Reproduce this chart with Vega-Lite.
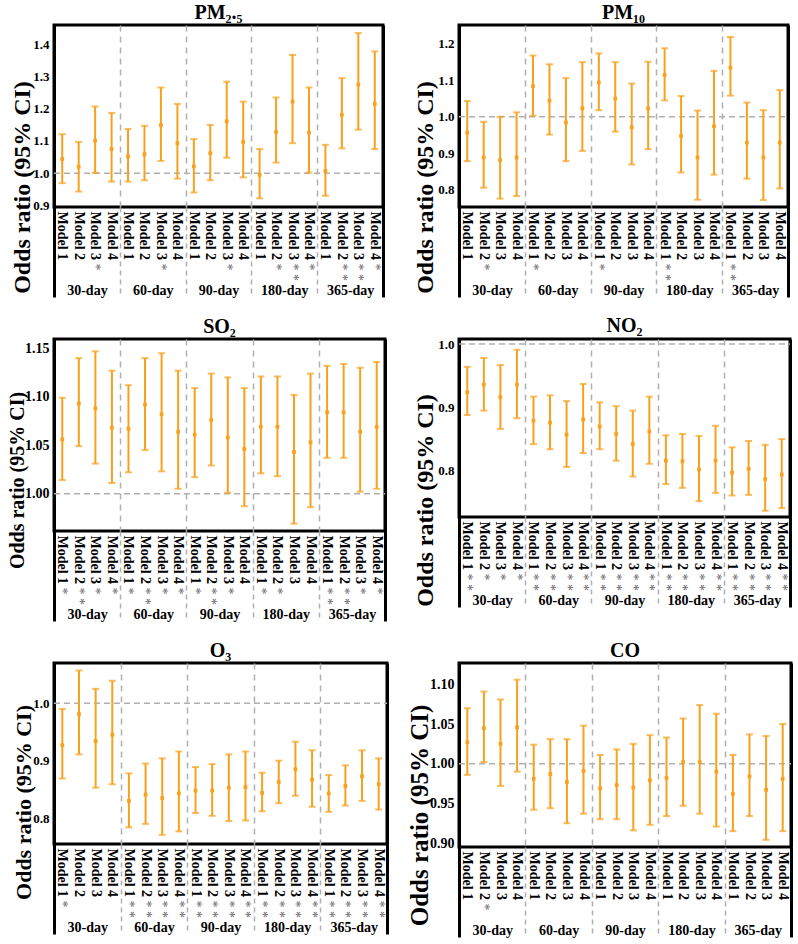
{
"$schema": "https://vega.github.io/schema/vega-lite/v6.json",
"background": "white",
"padding": {"left": 5, "top": 1, "right": 0, "bottom": 0},
"config": {
  "view": {"stroke": "black", "strokeWidth": 3},
  "font": "Liberation Serif",
  "title": {"font": "Liberation Serif", "fontSize": 20, "fontWeight": "bold", "color": "black", "offset": 2, "anchor": "middle"},
  "axis": {"labelFont": "Liberation Serif", "titleFont": "Liberation Serif", "labelColor": "black", "titleColor": "black"},
  "axisY": {"ticks": false, "domain": false, "grid": false, "labelFontWeight": "bold", "labelPadding": 5, "labelOverlap": false, "titleFontWeight": "bold", "titleAngle": -90, "titleAlign": "center", "titleBaseline": "alphabetic"},
  "axisX": {"domain": false, "grid": false, "labelOverlap": false}
},
"datasets": {
  "pm25": [
    {"window": "30-day", "model": "Model 1", "sig": "", "or": 1.044, "lo": 0.969, "hi": 1.121},
    {"window": "30-day", "model": "Model 2", "sig": "", "or": 1.020, "lo": 0.943, "hi": 1.097},
    {"window": "30-day", "model": "Model 3", "sig": "*", "or": 1.101, "lo": 1.001, "hi": 1.207},
    {"window": "30-day", "model": "Model 4", "sig": "", "or": 1.075, "lo": 0.974, "hi": 1.187},
    {"window": "60-day", "model": "Model 1", "sig": "", "or": 1.052, "lo": 0.974, "hi": 1.137},
    {"window": "60-day", "model": "Model 2", "sig": "", "or": 1.059, "lo": 0.978, "hi": 1.147},
    {"window": "60-day", "model": "Model 3", "sig": "*", "or": 1.149, "lo": 1.038, "hi": 1.266},
    {"window": "60-day", "model": "Model 4", "sig": "", "or": 1.093, "lo": 0.983, "hi": 1.215},
    {"window": "90-day", "model": "Model 1", "sig": "", "or": 1.021, "lo": 0.940, "hi": 1.106},
    {"window": "90-day", "model": "Model 2", "sig": "", "or": 1.062, "lo": 0.978, "hi": 1.150},
    {"window": "90-day", "model": "Model 3", "sig": "*", "or": 1.161, "lo": 1.048, "hi": 1.284},
    {"window": "90-day", "model": "Model 4", "sig": "", "or": 1.097, "lo": 0.987, "hi": 1.222},
    {"window": "180-day", "model": "Model 1", "sig": "", "or": 0.995, "lo": 0.922, "hi": 1.075},
    {"window": "180-day", "model": "Model 2", "sig": "*", "or": 1.128, "lo": 1.033, "hi": 1.235},
    {"window": "180-day", "model": "Model 3", "sig": "**", "or": 1.222, "lo": 1.093, "hi": 1.367},
    {"window": "180-day", "model": "Model 4", "sig": "*", "or": 1.126, "lo": 1.002, "hi": 1.266},
    {"window": "365-day", "model": "Model 1", "sig": "", "or": 1.007, "lo": 0.930, "hi": 1.088},
    {"window": "365-day", "model": "Model 2", "sig": "**", "or": 1.181, "lo": 1.077, "hi": 1.295},
    {"window": "365-day", "model": "Model 3", "sig": "**", "or": 1.275, "lo": 1.135, "hi": 1.435},
    {"window": "365-day", "model": "Model 4", "sig": "*", "or": 1.215, "lo": 1.075, "hi": 1.378}
  ],
  "pm10": [
    {"window": "30-day", "model": "Model 1", "sig": "", "or": 0.956, "lo": 0.878, "hi": 1.043},
    {"window": "30-day", "model": "Model 2", "sig": "*", "or": 0.888, "lo": 0.805, "hi": 0.986},
    {"window": "30-day", "model": "Model 3", "sig": "", "or": 0.881, "lo": 0.775, "hi": 1.000},
    {"window": "30-day", "model": "Model 4", "sig": "", "or": 0.888, "lo": 0.782, "hi": 1.012},
    {"window": "60-day", "model": "Model 1", "sig": "*", "or": 1.084, "lo": 1.003, "hi": 1.168},
    {"window": "60-day", "model": "Model 2", "sig": "", "or": 1.044, "lo": 0.951, "hi": 1.144},
    {"window": "60-day", "model": "Model 3", "sig": "", "or": 0.984, "lo": 0.878, "hi": 1.106},
    {"window": "60-day", "model": "Model 4", "sig": "", "or": 1.023, "lo": 0.906, "hi": 1.150},
    {"window": "90-day", "model": "Model 1", "sig": "*", "or": 1.094, "lo": 1.018, "hi": 1.174},
    {"window": "90-day", "model": "Model 2", "sig": "", "or": 1.050, "lo": 0.959, "hi": 1.150},
    {"window": "90-day", "model": "Model 3", "sig": "", "or": 0.971, "lo": 0.869, "hi": 1.091},
    {"window": "90-day", "model": "Model 4", "sig": "", "or": 1.023, "lo": 0.911, "hi": 1.151},
    {"window": "180-day", "model": "Model 1", "sig": "**", "or": 1.115, "lo": 1.045, "hi": 1.188},
    {"window": "180-day", "model": "Model 2", "sig": "", "or": 0.947, "lo": 0.847, "hi": 1.057},
    {"window": "180-day", "model": "Model 3", "sig": "", "or": 0.888, "lo": 0.772, "hi": 1.017},
    {"window": "180-day", "model": "Model 4", "sig": "", "or": 0.974, "lo": 0.841, "hi": 1.126},
    {"window": "365-day", "model": "Model 1", "sig": "**", "or": 1.135, "lo": 1.058, "hi": 1.219},
    {"window": "365-day", "model": "Model 2", "sig": "", "or": 0.929, "lo": 0.830, "hi": 1.039},
    {"window": "365-day", "model": "Model 3", "sig": "", "or": 0.888, "lo": 0.771, "hi": 1.018},
    {"window": "365-day", "model": "Model 4", "sig": "", "or": 0.929, "lo": 0.803, "hi": 1.073}
  ],
  "so2": [
    {"window": "30-day", "model": "Model 1", "sig": "*", "or": 1.056, "lo": 1.014, "hi": 1.099},
    {"window": "30-day", "model": "Model 2", "sig": "**", "or": 1.093, "lo": 1.049, "hi": 1.140},
    {"window": "30-day", "model": "Model 3", "sig": "*", "or": 1.088, "lo": 1.031, "hi": 1.147},
    {"window": "30-day", "model": "Model 4", "sig": "*", "or": 1.068, "lo": 1.011, "hi": 1.127},
    {"window": "60-day", "model": "Model 1", "sig": "*", "or": 1.067, "lo": 1.022, "hi": 1.112},
    {"window": "60-day", "model": "Model 2", "sig": "**", "or": 1.092, "lo": 1.045, "hi": 1.140},
    {"window": "60-day", "model": "Model 3", "sig": "*", "or": 1.082, "lo": 1.023, "hi": 1.145},
    {"window": "60-day", "model": "Model 4", "sig": "*", "or": 1.064, "lo": 1.005, "hi": 1.127},
    {"window": "90-day", "model": "Model 1", "sig": "*", "or": 1.061, "lo": 1.017, "hi": 1.109},
    {"window": "90-day", "model": "Model 2", "sig": "**", "or": 1.076, "lo": 1.029, "hi": 1.124},
    {"window": "90-day", "model": "Model 3", "sig": "*", "or": 1.058, "lo": 1.001, "hi": 1.120},
    {"window": "90-day", "model": "Model 4", "sig": "", "or": 1.046, "lo": 0.987, "hi": 1.109},
    {"window": "180-day", "model": "Model 1", "sig": "*", "or": 1.069, "lo": 1.021, "hi": 1.121},
    {"window": "180-day", "model": "Model 2", "sig": "*", "or": 1.069, "lo": 1.018, "hi": 1.121},
    {"window": "180-day", "model": "Model 3", "sig": "", "or": 1.043, "lo": 0.969, "hi": 1.102},
    {"window": "180-day", "model": "Model 4", "sig": "", "or": 1.053, "lo": 0.986, "hi": 1.124},
    {"window": "365-day", "model": "Model 1", "sig": "**", "or": 1.084, "lo": 1.037, "hi": 1.132},
    {"window": "365-day", "model": "Model 2", "sig": "**", "or": 1.084, "lo": 1.037, "hi": 1.134},
    {"window": "365-day", "model": "Model 3", "sig": "*", "or": 1.064, "lo": 1.002, "hi": 1.130},
    {"window": "365-day", "model": "Model 4", "sig": "*", "or": 1.069, "lo": 1.005, "hi": 1.136}
  ],
  "no2": [
    {"window": "30-day", "model": "Model 1", "sig": "**", "or": 0.924, "lo": 0.888, "hi": 0.964},
    {"window": "30-day", "model": "Model 2", "sig": "*", "or": 0.936, "lo": 0.895, "hi": 0.978},
    {"window": "30-day", "model": "Model 3", "sig": "*", "or": 0.916, "lo": 0.866, "hi": 0.967},
    {"window": "30-day", "model": "Model 4", "sig": "*", "or": 0.936, "lo": 0.883, "hi": 0.991},
    {"window": "60-day", "model": "Model 1", "sig": "**", "or": 0.879, "lo": 0.842, "hi": 0.917},
    {"window": "60-day", "model": "Model 2", "sig": "**", "or": 0.876, "lo": 0.834, "hi": 0.919},
    {"window": "60-day", "model": "Model 3", "sig": "**", "or": 0.857, "lo": 0.806, "hi": 0.910},
    {"window": "60-day", "model": "Model 4", "sig": "**", "or": 0.881, "lo": 0.828, "hi": 0.937},
    {"window": "90-day", "model": "Model 1", "sig": "**", "or": 0.870, "lo": 0.834, "hi": 0.908},
    {"window": "90-day", "model": "Model 2", "sig": "**", "or": 0.858, "lo": 0.816, "hi": 0.902},
    {"window": "90-day", "model": "Model 3", "sig": "**", "or": 0.842, "lo": 0.791, "hi": 0.895},
    {"window": "90-day", "model": "Model 4", "sig": "**", "or": 0.862, "lo": 0.811, "hi": 0.917},
    {"window": "180-day", "model": "Model 1", "sig": "**", "or": 0.816, "lo": 0.779, "hi": 0.856},
    {"window": "180-day", "model": "Model 2", "sig": "**", "or": 0.815, "lo": 0.773, "hi": 0.858},
    {"window": "180-day", "model": "Model 3", "sig": "**", "or": 0.802, "lo": 0.752, "hi": 0.855},
    {"window": "180-day", "model": "Model 4", "sig": "**", "or": 0.816, "lo": 0.765, "hi": 0.871},
    {"window": "365-day", "model": "Model 1", "sig": "**", "or": 0.797, "lo": 0.761, "hi": 0.837},
    {"window": "365-day", "model": "Model 2", "sig": "**", "or": 0.803, "lo": 0.762, "hi": 0.847},
    {"window": "365-day", "model": "Model 3", "sig": "**", "or": 0.787, "lo": 0.737, "hi": 0.841},
    {"window": "365-day", "model": "Model 4", "sig": "**", "or": 0.794, "lo": 0.741, "hi": 0.850}
  ],
  "o3": [
    {"window": "30-day", "model": "Model 1", "sig": "*", "or": 0.927, "lo": 0.869, "hi": 0.990},
    {"window": "30-day", "model": "Model 2", "sig": "", "or": 0.981, "lo": 0.911, "hi": 1.057},
    {"window": "30-day", "model": "Model 3", "sig": "", "or": 0.934, "lo": 0.853, "hi": 1.025},
    {"window": "30-day", "model": "Model 4", "sig": "", "or": 0.945, "lo": 0.859, "hi": 1.039},
    {"window": "60-day", "model": "Model 1", "sig": "**", "or": 0.830, "lo": 0.784, "hi": 0.878},
    {"window": "60-day", "model": "Model 2", "sig": "**", "or": 0.841, "lo": 0.790, "hi": 0.895},
    {"window": "60-day", "model": "Model 3", "sig": "**", "or": 0.835, "lo": 0.771, "hi": 0.904},
    {"window": "60-day", "model": "Model 4", "sig": "**", "or": 0.843, "lo": 0.777, "hi": 0.916},
    {"window": "90-day", "model": "Model 1", "sig": "**", "or": 0.848, "lo": 0.809, "hi": 0.889},
    {"window": "90-day", "model": "Model 2", "sig": "**", "or": 0.848, "lo": 0.804, "hi": 0.894},
    {"window": "90-day", "model": "Model 3", "sig": "**", "or": 0.853, "lo": 0.795, "hi": 0.911},
    {"window": "90-day", "model": "Model 4", "sig": "**", "or": 0.854, "lo": 0.796, "hi": 0.916},
    {"window": "180-day", "model": "Model 1", "sig": "**", "or": 0.844, "lo": 0.812, "hi": 0.879},
    {"window": "180-day", "model": "Model 2", "sig": "**", "or": 0.863, "lo": 0.826, "hi": 0.900},
    {"window": "180-day", "model": "Model 3", "sig": "**", "or": 0.885, "lo": 0.839, "hi": 0.933},
    {"window": "180-day", "model": "Model 4", "sig": "**", "or": 0.867, "lo": 0.820, "hi": 0.918},
    {"window": "365-day", "model": "Model 1", "sig": "**", "or": 0.843, "lo": 0.811, "hi": 0.875},
    {"window": "365-day", "model": "Model 2", "sig": "**", "or": 0.856, "lo": 0.822, "hi": 0.892},
    {"window": "365-day", "model": "Model 3", "sig": "**", "or": 0.873, "lo": 0.830, "hi": 0.918},
    {"window": "365-day", "model": "Model 4", "sig": "**", "or": 0.859, "lo": 0.815, "hi": 0.904}
  ],
  "co": [
    {"window": "30-day", "model": "Model 1", "sig": "", "or": 1.027, "lo": 0.986, "hi": 1.070},
    {"window": "30-day", "model": "Model 2", "sig": "*", "or": 1.045, "lo": 1.002, "hi": 1.091},
    {"window": "30-day", "model": "Model 3", "sig": "", "or": 1.025, "lo": 0.972, "hi": 1.081},
    {"window": "30-day", "model": "Model 4", "sig": "", "or": 1.046, "lo": 0.990, "hi": 1.106},
    {"window": "60-day", "model": "Model 1", "sig": "", "or": 0.981, "lo": 0.942, "hi": 1.024},
    {"window": "60-day", "model": "Model 2", "sig": "", "or": 0.987, "lo": 0.944, "hi": 1.031},
    {"window": "60-day", "model": "Model 3", "sig": "", "or": 0.977, "lo": 0.925, "hi": 1.031},
    {"window": "60-day", "model": "Model 4", "sig": "", "or": 0.991, "lo": 0.937, "hi": 1.048},
    {"window": "90-day", "model": "Model 1", "sig": "", "or": 0.969, "lo": 0.930, "hi": 1.011},
    {"window": "90-day", "model": "Model 2", "sig": "", "or": 0.973, "lo": 0.930, "hi": 1.018},
    {"window": "90-day", "model": "Model 3", "sig": "", "or": 0.970, "lo": 0.916, "hi": 1.025},
    {"window": "90-day", "model": "Model 4", "sig": "", "or": 0.979, "lo": 0.923, "hi": 1.036},
    {"window": "180-day", "model": "Model 1", "sig": "", "or": 0.982, "lo": 0.934, "hi": 1.033},
    {"window": "180-day", "model": "Model 2", "sig": "", "or": 1.002, "lo": 0.947, "hi": 1.057},
    {"window": "180-day", "model": "Model 3", "sig": "", "or": 1.002, "lo": 0.937, "hi": 1.074},
    {"window": "180-day", "model": "Model 4", "sig": "", "or": 0.990, "lo": 0.921, "hi": 1.063},
    {"window": "365-day", "model": "Model 1", "sig": "", "or": 0.962, "lo": 0.915, "hi": 1.011},
    {"window": "365-day", "model": "Model 2", "sig": "", "or": 0.984, "lo": 0.934, "hi": 1.037},
    {"window": "365-day", "model": "Model 3", "sig": "", "or": 0.967, "lo": 0.904, "hi": 1.035},
    {"window": "365-day", "model": "Model 4", "sig": "", "or": 0.981, "lo": 0.915, "hi": 1.050}
  ]
},
"columns": 2,
"spacing": {"row": 132, "column": 72},
"bounds": "flush",
"center": {"row": true, "column": false},
"concat": [
{
 "title": {"text": "PM₂.₅"},
 "width": 329, "height": 182,
 "data": {"name": "pm25"},
 "transform": [{"calculate": "datum.window + '|' + datum.model + '|' + datum.sig", "as": "key"}],
 "resolve": {"scale": {"x": "independent"}, "axis": {"x": "independent"}},
 "layer": [
  {"data": {"values": [{}]},
   "mark": {"type": "rule", "color": "#b0b0b0", "strokeDash": [6, 4], "strokeWidth": 1.5},
   "encoding": {
    "x": {"datum": 0, "type": "quantitative", "scale": {"domain": [0, 1], "nice": false, "zero": false}, "axis": null},
    "x2": {"datum": 1},
    "y": {"datum": 1, "type": "quantitative", "scale": {"domain": [0.895, 1.46], "nice": false, "zero": false}, "axis": {"title": "Odds ratio (95% CI)", "values": [0.9, 1.0, 1.1, 1.2, 1.3, 1.4], "format": ".1f", "labelFontSize": 13, "titleFontSize": 24, "titleX": -25, "titleY": 162}}}},
  {"encoding": {"x": {"field": "key", "type": "nominal", "sort": null, "scale": {"type": "band", "paddingInner": 0, "paddingOuter": 0},
     "axis": {"orient": "bottom", "title": null, "labelExpr": "split(datum.value, '|')[1]", "labelAngle": 90, "labelAlign": "left", "labelBaseline": "middle", "labelFontSize": 14, "labelFontWeight": "bold", "labelPadding": 4, "ticks": false}}},
   "layer": [
    {"mark": {"type": "rule", "color": "#F7A11C", "strokeWidth": 2},
     "encoding": {"y": {"field": "lo", "type": "quantitative", "scale": {"domain": [0.895, 1.46], "nice": false, "zero": false}, "axis": {"title": "Odds ratio (95% CI)", "values": [0.9, 1.0, 1.1, 1.2, 1.3, 1.4], "format": ".1f", "labelFontSize": 13, "titleFontSize": 24, "titleX": -25, "titleY": 162}}, "y2": {"field": "hi"}}},
    {"mark": {"type": "tick", "color": "#F7A11C", "thickness": 2, "size": 7, "orient": "horizontal"},
     "encoding": {"y": {"field": "lo", "type": "quantitative", "scale": {"domain": [0.895, 1.46], "nice": false, "zero": false}, "axis": {"title": "Odds ratio (95% CI)", "values": [0.9, 1.0, 1.1, 1.2, 1.3, 1.4], "format": ".1f", "labelFontSize": 13, "titleFontSize": 24, "titleX": -25, "titleY": 162}}}},
    {"mark": {"type": "tick", "color": "#F7A11C", "thickness": 2, "size": 7, "orient": "horizontal"},
     "encoding": {"y": {"field": "hi", "type": "quantitative", "scale": {"domain": [0.895, 1.46], "nice": false, "zero": false}, "axis": {"title": "Odds ratio (95% CI)", "values": [0.9, 1.0, 1.1, 1.2, 1.3, 1.4], "format": ".1f", "labelFontSize": 13, "titleFontSize": 24, "titleX": -25, "titleY": 162}}}}
   ]},
  {"mark": {"type": "square", "color": "#F7A11C", "size": 14, "opacity": 1},
   "encoding": {
    "x": {"field": "key", "type": "nominal", "sort": null, "scale": {"type": "band", "paddingInner": 0, "paddingOuter": 0},
     "axis": {"orient": "bottom", "title": null, "labelExpr": "replace(split(datum.value, '|')[2], '**', '* *')", "labelAngle": 90, "labelAlign": "left", "labelBaseline": "middle", "labelFontSize": 14, "labelColor": "#666666", "labelPadding": 56, "ticks": false}},
    "y": {"field": "or", "type": "quantitative", "scale": {"domain": [0.895, 1.46], "nice": false, "zero": false}, "axis": {"title": "Odds ratio (95% CI)", "values": [0.9, 1.0, 1.1, 1.2, 1.3, 1.4], "format": ".1f", "labelFontSize": 13, "titleFontSize": 24, "titleX": -25, "titleY": 162}}}},
  {"mark": {"type": "point", "opacity": 0},
   "encoding": {
    "x": {"field": "window", "type": "nominal", "sort": null, "scale": {"type": "band", "paddingInner": 0, "paddingOuter": 0},
     "axis": {"orient": "bottom", "title": null, "tickBand": "extent", "ticks": true, "tickSize": 90,
      "tickColor": {"condition": {"test": "datum.index === -1 || datum.value === '365-day'", "value": "black"}, "value": "#b0b0b0"},
      "tickDash": {"condition": {"test": "datum.index === -1 || datum.value === '365-day'", "value": []}, "value": [5, 4]},
      "tickWidth": {"condition": {"test": "datum.index === -1 || datum.value === '365-day'", "value": 3}, "value": 1.5},
      "grid": true,
      "gridColor": {"condition": {"test": "datum.index === -1 || datum.value === '365-day'", "value": "black"}, "value": "#b0b0b0"},
      "gridDash": {"condition": {"test": "datum.index === -1 || datum.value === '365-day'", "value": []}, "value": [6, 5]},
      "gridWidth": {"condition": {"test": "datum.index === -1 || datum.value === '365-day'", "value": 3}, "value": 1.5},
      "labelAngle": 0, "labelAlign": "center", "labelBaseline": "top", "labelFontSize": 14, "labelFontWeight": "bold", "labelPadding": -14}},
    "y": {"field": "or", "type": "quantitative", "scale": {"domain": [0.895, 1.46], "nice": false, "zero": false}, "axis": {"title": "Odds ratio (95% CI)", "values": [0.9, 1.0, 1.1, 1.2, 1.3, 1.4], "format": ".1f", "labelFontSize": 13, "titleFontSize": 24, "titleX": -25, "titleY": 162}}}}
 ]
},
{
 "title": {"text": "PM₁₀"},
 "width": 329, "height": 182,
 "data": {"name": "pm10"},
 "transform": [{"calculate": "datum.window + '|' + datum.model + '|' + datum.sig", "as": "key"}],
 "resolve": {"scale": {"x": "independent"}, "axis": {"x": "independent"}},
 "layer": [
  {"data": {"values": [{}]},
   "mark": {"type": "rule", "color": "#b0b0b0", "strokeDash": [6, 4], "strokeWidth": 1.5},
   "encoding": {
    "x": {"datum": 0, "type": "quantitative", "scale": {"domain": [0, 1], "nice": false, "zero": false}, "axis": null},
    "x2": {"datum": 1},
    "y": {"datum": 1, "type": "quantitative", "scale": {"domain": [0.752, 1.252], "nice": false, "zero": false}, "axis": {"title": "Odds ratio (95% CI)", "values": [0.8, 0.9, 1.0, 1.1, 1.2], "format": ".1f", "labelFontSize": 13, "titleFontSize": 24, "titleX": -27, "titleY": 162}}}},
  {"encoding": {"x": {"field": "key", "type": "nominal", "sort": null, "scale": {"type": "band", "paddingInner": 0, "paddingOuter": 0},
     "axis": {"orient": "bottom", "title": null, "labelExpr": "split(datum.value, '|')[1]", "labelAngle": 90, "labelAlign": "left", "labelBaseline": "middle", "labelFontSize": 14, "labelFontWeight": "bold", "labelPadding": 4, "ticks": false}}},
   "layer": [
    {"mark": {"type": "rule", "color": "#F7A11C", "strokeWidth": 2},
     "encoding": {"y": {"field": "lo", "type": "quantitative", "scale": {"domain": [0.752, 1.252], "nice": false, "zero": false}, "axis": {"title": "Odds ratio (95% CI)", "values": [0.8, 0.9, 1.0, 1.1, 1.2], "format": ".1f", "labelFontSize": 13, "titleFontSize": 24, "titleX": -27, "titleY": 162}}, "y2": {"field": "hi"}}},
    {"mark": {"type": "tick", "color": "#F7A11C", "thickness": 2, "size": 7, "orient": "horizontal"},
     "encoding": {"y": {"field": "lo", "type": "quantitative", "scale": {"domain": [0.752, 1.252], "nice": false, "zero": false}, "axis": {"title": "Odds ratio (95% CI)", "values": [0.8, 0.9, 1.0, 1.1, 1.2], "format": ".1f", "labelFontSize": 13, "titleFontSize": 24, "titleX": -27, "titleY": 162}}}},
    {"mark": {"type": "tick", "color": "#F7A11C", "thickness": 2, "size": 7, "orient": "horizontal"},
     "encoding": {"y": {"field": "hi", "type": "quantitative", "scale": {"domain": [0.752, 1.252], "nice": false, "zero": false}, "axis": {"title": "Odds ratio (95% CI)", "values": [0.8, 0.9, 1.0, 1.1, 1.2], "format": ".1f", "labelFontSize": 13, "titleFontSize": 24, "titleX": -27, "titleY": 162}}}}
   ]},
  {"mark": {"type": "square", "color": "#F7A11C", "size": 14, "opacity": 1},
   "encoding": {
    "x": {"field": "key", "type": "nominal", "sort": null, "scale": {"type": "band", "paddingInner": 0, "paddingOuter": 0},
     "axis": {"orient": "bottom", "title": null, "labelExpr": "replace(split(datum.value, '|')[2], '**', '* *')", "labelAngle": 90, "labelAlign": "left", "labelBaseline": "middle", "labelFontSize": 14, "labelColor": "#666666", "labelPadding": 56, "ticks": false}},
    "y": {"field": "or", "type": "quantitative", "scale": {"domain": [0.752, 1.252], "nice": false, "zero": false}, "axis": {"title": "Odds ratio (95% CI)", "values": [0.8, 0.9, 1.0, 1.1, 1.2], "format": ".1f", "labelFontSize": 13, "titleFontSize": 24, "titleX": -27, "titleY": 162}}}},
  {"mark": {"type": "point", "opacity": 0},
   "encoding": {
    "x": {"field": "window", "type": "nominal", "sort": null, "scale": {"type": "band", "paddingInner": 0, "paddingOuter": 0},
     "axis": {"orient": "bottom", "title": null, "tickBand": "extent", "ticks": true, "tickSize": 90,
      "tickColor": {"condition": {"test": "datum.index === -1 || datum.value === '365-day'", "value": "black"}, "value": "#b0b0b0"},
      "tickDash": {"condition": {"test": "datum.index === -1 || datum.value === '365-day'", "value": []}, "value": [5, 4]},
      "tickWidth": {"condition": {"test": "datum.index === -1 || datum.value === '365-day'", "value": 3}, "value": 1.5},
      "grid": true,
      "gridColor": {"condition": {"test": "datum.index === -1 || datum.value === '365-day'", "value": "black"}, "value": "#b0b0b0"},
      "gridDash": {"condition": {"test": "datum.index === -1 || datum.value === '365-day'", "value": []}, "value": [6, 5]},
      "gridWidth": {"condition": {"test": "datum.index === -1 || datum.value === '365-day'", "value": 3}, "value": 1.5},
      "labelAngle": 0, "labelAlign": "center", "labelBaseline": "top", "labelFontSize": 14, "labelFontWeight": "bold", "labelPadding": -14}},
    "y": {"field": "or", "type": "quantitative", "scale": {"domain": [0.752, 1.252], "nice": false, "zero": false}, "axis": {"title": "Odds ratio (95% CI)", "values": [0.8, 0.9, 1.0, 1.1, 1.2], "format": ".1f", "labelFontSize": 13, "titleFontSize": 24, "titleX": -27, "titleY": 162}}}}
 ]
},
{
 "title": {"text": "SO₂"},
 "width": 331, "height": 192,
 "data": {"name": "so2"},
 "transform": [{"calculate": "datum.window + '|' + datum.model + '|' + datum.sig", "as": "key"}],
 "resolve": {"scale": {"x": "independent"}, "axis": {"x": "independent"}},
 "layer": [
  {"data": {"values": [{}]},
   "mark": {"type": "rule", "color": "#b0b0b0", "strokeDash": [6, 4], "strokeWidth": 1.5},
   "encoding": {
    "x": {"datum": 0, "type": "quantitative", "scale": {"domain": [0, 1], "nice": false, "zero": false}, "axis": null},
    "x2": {"datum": 1},
    "y": {"datum": 1, "type": "quantitative", "scale": {"domain": [0.9614, 1.1597], "nice": false, "zero": false}, "axis": {"title": "Odds ratio (95% CI)", "values": [1.0, 1.05, 1.1, 1.15], "format": ".2f", "labelFontSize": 14, "titleFontSize": 20, "titleX": -31, "titleY": 141}}}},
  {"encoding": {"x": {"field": "key", "type": "nominal", "sort": null, "scale": {"type": "band", "paddingInner": 0, "paddingOuter": 0},
     "axis": {"orient": "bottom", "title": null, "labelExpr": "split(datum.value, '|')[1]", "labelAngle": 90, "labelAlign": "left", "labelBaseline": "middle", "labelFontSize": 14, "labelFontWeight": "bold", "labelPadding": 4, "ticks": false}}},
   "layer": [
    {"mark": {"type": "rule", "color": "#F7A11C", "strokeWidth": 2},
     "encoding": {"y": {"field": "lo", "type": "quantitative", "scale": {"domain": [0.9614, 1.1597], "nice": false, "zero": false}, "axis": {"title": "Odds ratio (95% CI)", "values": [1.0, 1.05, 1.1, 1.15], "format": ".2f", "labelFontSize": 14, "titleFontSize": 20, "titleX": -31, "titleY": 141}}, "y2": {"field": "hi"}}},
    {"mark": {"type": "tick", "color": "#F7A11C", "thickness": 2, "size": 7, "orient": "horizontal"},
     "encoding": {"y": {"field": "lo", "type": "quantitative", "scale": {"domain": [0.9614, 1.1597], "nice": false, "zero": false}, "axis": {"title": "Odds ratio (95% CI)", "values": [1.0, 1.05, 1.1, 1.15], "format": ".2f", "labelFontSize": 14, "titleFontSize": 20, "titleX": -31, "titleY": 141}}}},
    {"mark": {"type": "tick", "color": "#F7A11C", "thickness": 2, "size": 7, "orient": "horizontal"},
     "encoding": {"y": {"field": "hi", "type": "quantitative", "scale": {"domain": [0.9614, 1.1597], "nice": false, "zero": false}, "axis": {"title": "Odds ratio (95% CI)", "values": [1.0, 1.05, 1.1, 1.15], "format": ".2f", "labelFontSize": 14, "titleFontSize": 20, "titleX": -31, "titleY": 141}}}}
   ]},
  {"mark": {"type": "square", "color": "#F7A11C", "size": 14, "opacity": 1},
   "encoding": {
    "x": {"field": "key", "type": "nominal", "sort": null, "scale": {"type": "band", "paddingInner": 0, "paddingOuter": 0},
     "axis": {"orient": "bottom", "title": null, "labelExpr": "replace(split(datum.value, '|')[2], '**', '* *')", "labelAngle": 90, "labelAlign": "left", "labelBaseline": "middle", "labelFontSize": 14, "labelColor": "#666666", "labelPadding": 56, "ticks": false}},
    "y": {"field": "or", "type": "quantitative", "scale": {"domain": [0.9614, 1.1597], "nice": false, "zero": false}, "axis": {"title": "Odds ratio (95% CI)", "values": [1.0, 1.05, 1.1, 1.15], "format": ".2f", "labelFontSize": 14, "titleFontSize": 20, "titleX": -31, "titleY": 141}}}},
  {"mark": {"type": "point", "opacity": 0},
   "encoding": {
    "x": {"field": "window", "type": "nominal", "sort": null, "scale": {"type": "band", "paddingInner": 0, "paddingOuter": 0},
     "axis": {"orient": "bottom", "title": null, "tickBand": "extent", "ticks": true, "tickSize": 90,
      "tickColor": {"condition": {"test": "datum.index === -1 || datum.value === '365-day'", "value": "black"}, "value": "#b0b0b0"},
      "tickDash": {"condition": {"test": "datum.index === -1 || datum.value === '365-day'", "value": []}, "value": [5, 4]},
      "tickWidth": {"condition": {"test": "datum.index === -1 || datum.value === '365-day'", "value": 3}, "value": 1.5},
      "grid": true,
      "gridColor": {"condition": {"test": "datum.index === -1 || datum.value === '365-day'", "value": "black"}, "value": "#b0b0b0"},
      "gridDash": {"condition": {"test": "datum.index === -1 || datum.value === '365-day'", "value": []}, "value": [6, 5]},
      "gridWidth": {"condition": {"test": "datum.index === -1 || datum.value === '365-day'", "value": 3}, "value": 1.5},
      "labelAngle": 0, "labelAlign": "center", "labelBaseline": "top", "labelFontSize": 14, "labelFontWeight": "bold", "labelPadding": -14}},
    "y": {"field": "or", "type": "quantitative", "scale": {"domain": [0.9614, 1.1597], "nice": false, "zero": false}, "axis": {"title": "Odds ratio (95% CI)", "values": [1.0, 1.05, 1.1, 1.15], "format": ".2f", "labelFontSize": 14, "titleFontSize": 20, "titleX": -31, "titleY": 141}}}}
 ]
},
{
 "title": {"text": "NO₂"},
 "width": 331, "height": 178,
 "data": {"name": "no2"},
 "transform": [{"calculate": "datum.window + '|' + datum.model + '|' + datum.sig", "as": "key"}],
 "resolve": {"scale": {"x": "independent"}, "axis": {"x": "independent"}},
 "layer": [
  {"data": {"values": [{}]},
   "mark": {"type": "rule", "color": "#b0b0b0", "strokeDash": [6, 4], "strokeWidth": 1.5},
   "encoding": {
    "x": {"datum": 0, "type": "quantitative", "scale": {"domain": [0, 1], "nice": false, "zero": false}, "axis": null},
    "x2": {"datum": 1},
    "y": {"datum": 1, "type": "quantitative", "scale": {"domain": [0.727, 1.008], "nice": false, "zero": false}, "axis": {"title": "Odds ratio (95% CI)", "values": [0.8, 0.9, 1.0], "format": ".1f", "labelFontSize": 13, "titleFontSize": 24, "titleX": -27, "titleY": 161}}}},
  {"encoding": {"x": {"field": "key", "type": "nominal", "sort": null, "scale": {"type": "band", "paddingInner": 0, "paddingOuter": 0},
     "axis": {"orient": "bottom", "title": null, "labelExpr": "split(datum.value, '|')[1]", "labelAngle": 90, "labelAlign": "left", "labelBaseline": "middle", "labelFontSize": 14, "labelFontWeight": "bold", "labelPadding": 4, "ticks": false}}},
   "layer": [
    {"mark": {"type": "rule", "color": "#F7A11C", "strokeWidth": 2},
     "encoding": {"y": {"field": "lo", "type": "quantitative", "scale": {"domain": [0.727, 1.008], "nice": false, "zero": false}, "axis": {"title": "Odds ratio (95% CI)", "values": [0.8, 0.9, 1.0], "format": ".1f", "labelFontSize": 13, "titleFontSize": 24, "titleX": -27, "titleY": 161}}, "y2": {"field": "hi"}}},
    {"mark": {"type": "tick", "color": "#F7A11C", "thickness": 2, "size": 7, "orient": "horizontal"},
     "encoding": {"y": {"field": "lo", "type": "quantitative", "scale": {"domain": [0.727, 1.008], "nice": false, "zero": false}, "axis": {"title": "Odds ratio (95% CI)", "values": [0.8, 0.9, 1.0], "format": ".1f", "labelFontSize": 13, "titleFontSize": 24, "titleX": -27, "titleY": 161}}}},
    {"mark": {"type": "tick", "color": "#F7A11C", "thickness": 2, "size": 7, "orient": "horizontal"},
     "encoding": {"y": {"field": "hi", "type": "quantitative", "scale": {"domain": [0.727, 1.008], "nice": false, "zero": false}, "axis": {"title": "Odds ratio (95% CI)", "values": [0.8, 0.9, 1.0], "format": ".1f", "labelFontSize": 13, "titleFontSize": 24, "titleX": -27, "titleY": 161}}}}
   ]},
  {"mark": {"type": "square", "color": "#F7A11C", "size": 14, "opacity": 1},
   "encoding": {
    "x": {"field": "key", "type": "nominal", "sort": null, "scale": {"type": "band", "paddingInner": 0, "paddingOuter": 0},
     "axis": {"orient": "bottom", "title": null, "labelExpr": "replace(split(datum.value, '|')[2], '**', '* *')", "labelAngle": 90, "labelAlign": "left", "labelBaseline": "middle", "labelFontSize": 14, "labelColor": "#666666", "labelPadding": 56, "ticks": false}},
    "y": {"field": "or", "type": "quantitative", "scale": {"domain": [0.727, 1.008], "nice": false, "zero": false}, "axis": {"title": "Odds ratio (95% CI)", "values": [0.8, 0.9, 1.0], "format": ".1f", "labelFontSize": 13, "titleFontSize": 24, "titleX": -27, "titleY": 161}}}},
  {"mark": {"type": "point", "opacity": 0},
   "encoding": {
    "x": {"field": "window", "type": "nominal", "sort": null, "scale": {"type": "band", "paddingInner": 0, "paddingOuter": 0},
     "axis": {"orient": "bottom", "title": null, "tickBand": "extent", "ticks": true, "tickSize": 90,
      "tickColor": {"condition": {"test": "datum.index === -1 || datum.value === '365-day'", "value": "black"}, "value": "#b0b0b0"},
      "tickDash": {"condition": {"test": "datum.index === -1 || datum.value === '365-day'", "value": []}, "value": [5, 4]},
      "tickWidth": {"condition": {"test": "datum.index === -1 || datum.value === '365-day'", "value": 3}, "value": 1.5},
      "grid": true,
      "gridColor": {"condition": {"test": "datum.index === -1 || datum.value === '365-day'", "value": "black"}, "value": "#b0b0b0"},
      "gridDash": {"condition": {"test": "datum.index === -1 || datum.value === '365-day'", "value": []}, "value": [6, 5]},
      "gridWidth": {"condition": {"test": "datum.index === -1 || datum.value === '365-day'", "value": 3}, "value": 1.5},
      "labelAngle": 0, "labelAlign": "center", "labelBaseline": "top", "labelFontSize": 14, "labelFontWeight": "bold", "labelPadding": -14}},
    "y": {"field": "or", "type": "quantitative", "scale": {"domain": [0.727, 1.008], "nice": false, "zero": false}, "axis": {"title": "Odds ratio (95% CI)", "values": [0.8, 0.9, 1.0], "format": ".1f", "labelFontSize": 13, "titleFontSize": 24, "titleX": -27, "titleY": 161}}}}
 ]
},
{
 "title": {"text": "O₃"},
 "width": 333, "height": 181,
 "data": {"name": "o3"},
 "transform": [{"calculate": "datum.window + '|' + datum.model + '|' + datum.sig", "as": "key"}],
 "resolve": {"scale": {"x": "independent"}, "axis": {"x": "independent"}},
 "layer": [
  {"data": {"values": [{}]},
   "mark": {"type": "rule", "color": "#b0b0b0", "strokeDash": [6, 4], "strokeWidth": 1.5},
   "encoding": {
    "x": {"datum": 0, "type": "quantitative", "scale": {"domain": [0, 1], "nice": false, "zero": false}, "axis": null},
    "x2": {"datum": 1},
    "y": {"datum": 1, "type": "quantitative", "scale": {"domain": [0.755, 1.07], "nice": false, "zero": false}, "axis": {"title": "Odds ratio (95% CI)", "values": [0.8, 0.9, 1.0], "format": ".1f", "labelFontSize": 13, "titleFontSize": 22, "titleX": -24, "titleY": 139}}}},
  {"encoding": {"x": {"field": "key", "type": "nominal", "sort": null, "scale": {"type": "band", "paddingInner": 0, "paddingOuter": 0},
     "axis": {"orient": "bottom", "title": null, "labelExpr": "split(datum.value, '|')[1]", "labelAngle": 90, "labelAlign": "left", "labelBaseline": "middle", "labelFontSize": 14, "labelFontWeight": "bold", "labelPadding": 4, "ticks": false}}},
   "layer": [
    {"mark": {"type": "rule", "color": "#F7A11C", "strokeWidth": 2},
     "encoding": {"y": {"field": "lo", "type": "quantitative", "scale": {"domain": [0.755, 1.07], "nice": false, "zero": false}, "axis": {"title": "Odds ratio (95% CI)", "values": [0.8, 0.9, 1.0], "format": ".1f", "labelFontSize": 13, "titleFontSize": 22, "titleX": -24, "titleY": 139}}, "y2": {"field": "hi"}}},
    {"mark": {"type": "tick", "color": "#F7A11C", "thickness": 2, "size": 7, "orient": "horizontal"},
     "encoding": {"y": {"field": "lo", "type": "quantitative", "scale": {"domain": [0.755, 1.07], "nice": false, "zero": false}, "axis": {"title": "Odds ratio (95% CI)", "values": [0.8, 0.9, 1.0], "format": ".1f", "labelFontSize": 13, "titleFontSize": 22, "titleX": -24, "titleY": 139}}}},
    {"mark": {"type": "tick", "color": "#F7A11C", "thickness": 2, "size": 7, "orient": "horizontal"},
     "encoding": {"y": {"field": "hi", "type": "quantitative", "scale": {"domain": [0.755, 1.07], "nice": false, "zero": false}, "axis": {"title": "Odds ratio (95% CI)", "values": [0.8, 0.9, 1.0], "format": ".1f", "labelFontSize": 13, "titleFontSize": 22, "titleX": -24, "titleY": 139}}}}
   ]},
  {"mark": {"type": "square", "color": "#F7A11C", "size": 14, "opacity": 1},
   "encoding": {
    "x": {"field": "key", "type": "nominal", "sort": null, "scale": {"type": "band", "paddingInner": 0, "paddingOuter": 0},
     "axis": {"orient": "bottom", "title": null, "labelExpr": "replace(split(datum.value, '|')[2], '**', '* *')", "labelAngle": 90, "labelAlign": "left", "labelBaseline": "middle", "labelFontSize": 14, "labelColor": "#666666", "labelPadding": 56, "ticks": false}},
    "y": {"field": "or", "type": "quantitative", "scale": {"domain": [0.755, 1.07], "nice": false, "zero": false}, "axis": {"title": "Odds ratio (95% CI)", "values": [0.8, 0.9, 1.0], "format": ".1f", "labelFontSize": 13, "titleFontSize": 22, "titleX": -24, "titleY": 139}}}},
  {"mark": {"type": "point", "opacity": 0},
   "encoding": {
    "x": {"field": "window", "type": "nominal", "sort": null, "scale": {"type": "band", "paddingInner": 0, "paddingOuter": 0},
     "axis": {"orient": "bottom", "title": null, "tickBand": "extent", "ticks": true, "tickSize": 90,
      "tickColor": {"condition": {"test": "datum.index === -1 || datum.value === '365-day'", "value": "black"}, "value": "#b0b0b0"},
      "tickDash": {"condition": {"test": "datum.index === -1 || datum.value === '365-day'", "value": []}, "value": [5, 4]},
      "tickWidth": {"condition": {"test": "datum.index === -1 || datum.value === '365-day'", "value": 3}, "value": 1.5},
      "grid": true,
      "gridColor": {"condition": {"test": "datum.index === -1 || datum.value === '365-day'", "value": "black"}, "value": "#b0b0b0"},
      "gridDash": {"condition": {"test": "datum.index === -1 || datum.value === '365-day'", "value": []}, "value": [6, 5]},
      "gridWidth": {"condition": {"test": "datum.index === -1 || datum.value === '365-day'", "value": 3}, "value": 1.5},
      "labelAngle": 0, "labelAlign": "center", "labelBaseline": "top", "labelFontSize": 14, "labelFontWeight": "bold", "labelPadding": -14}},
    "y": {"field": "or", "type": "quantitative", "scale": {"domain": [0.755, 1.07], "nice": false, "zero": false}, "axis": {"title": "Odds ratio (95% CI)", "values": [0.8, 0.9, 1.0], "format": ".1f", "labelFontSize": 13, "titleFontSize": 22, "titleX": -24, "titleY": 139}}}}
 ]
},
{
 "title": {"text": "CO"},
 "width": 332, "height": 184,
 "data": {"name": "co"},
 "transform": [{"calculate": "datum.window + '|' + datum.model + '|' + datum.sig", "as": "key"}],
 "resolve": {"scale": {"x": "independent"}, "axis": {"x": "independent"}},
 "layer": [
  {"data": {"values": [{}]},
   "mark": {"type": "rule", "color": "#b0b0b0", "strokeDash": [6, 4], "strokeWidth": 1.5},
   "encoding": {
    "x": {"datum": 0, "type": "quantitative", "scale": {"domain": [0, 1], "nice": false, "zero": false}, "axis": null},
    "x2": {"datum": 1},
    "y": {"datum": 1, "type": "quantitative", "scale": {"domain": [0.895, 1.127], "nice": false, "zero": false}, "axis": {"title": "Odds ratio (95% CI)", "values": [0.9, 0.95, 1.0, 1.05, 1.1], "format": ".2f", "labelFontSize": 14, "titleFontSize": 25, "titleX": -32, "titleY": 152}}}},
  {"encoding": {"x": {"field": "key", "type": "nominal", "sort": null, "scale": {"type": "band", "paddingInner": 0, "paddingOuter": 0},
     "axis": {"orient": "bottom", "title": null, "labelExpr": "split(datum.value, '|')[1]", "labelAngle": 90, "labelAlign": "left", "labelBaseline": "middle", "labelFontSize": 14, "labelFontWeight": "bold", "labelPadding": 4, "ticks": false}}},
   "layer": [
    {"mark": {"type": "rule", "color": "#F7A11C", "strokeWidth": 2},
     "encoding": {"y": {"field": "lo", "type": "quantitative", "scale": {"domain": [0.895, 1.127], "nice": false, "zero": false}, "axis": {"title": "Odds ratio (95% CI)", "values": [0.9, 0.95, 1.0, 1.05, 1.1], "format": ".2f", "labelFontSize": 14, "titleFontSize": 25, "titleX": -32, "titleY": 152}}, "y2": {"field": "hi"}}},
    {"mark": {"type": "tick", "color": "#F7A11C", "thickness": 2, "size": 7, "orient": "horizontal"},
     "encoding": {"y": {"field": "lo", "type": "quantitative", "scale": {"domain": [0.895, 1.127], "nice": false, "zero": false}, "axis": {"title": "Odds ratio (95% CI)", "values": [0.9, 0.95, 1.0, 1.05, 1.1], "format": ".2f", "labelFontSize": 14, "titleFontSize": 25, "titleX": -32, "titleY": 152}}}},
    {"mark": {"type": "tick", "color": "#F7A11C", "thickness": 2, "size": 7, "orient": "horizontal"},
     "encoding": {"y": {"field": "hi", "type": "quantitative", "scale": {"domain": [0.895, 1.127], "nice": false, "zero": false}, "axis": {"title": "Odds ratio (95% CI)", "values": [0.9, 0.95, 1.0, 1.05, 1.1], "format": ".2f", "labelFontSize": 14, "titleFontSize": 25, "titleX": -32, "titleY": 152}}}}
   ]},
  {"mark": {"type": "square", "color": "#F7A11C", "size": 14, "opacity": 1},
   "encoding": {
    "x": {"field": "key", "type": "nominal", "sort": null, "scale": {"type": "band", "paddingInner": 0, "paddingOuter": 0},
     "axis": {"orient": "bottom", "title": null, "labelExpr": "replace(split(datum.value, '|')[2], '**', '* *')", "labelAngle": 90, "labelAlign": "left", "labelBaseline": "middle", "labelFontSize": 14, "labelColor": "#666666", "labelPadding": 56, "ticks": false}},
    "y": {"field": "or", "type": "quantitative", "scale": {"domain": [0.895, 1.127], "nice": false, "zero": false}, "axis": {"title": "Odds ratio (95% CI)", "values": [0.9, 0.95, 1.0, 1.05, 1.1], "format": ".2f", "labelFontSize": 14, "titleFontSize": 25, "titleX": -32, "titleY": 152}}}},
  {"mark": {"type": "point", "opacity": 0},
   "encoding": {
    "x": {"field": "window", "type": "nominal", "sort": null, "scale": {"type": "band", "paddingInner": 0, "paddingOuter": 0},
     "axis": {"orient": "bottom", "title": null, "tickBand": "extent", "ticks": true, "tickSize": 90,
      "tickColor": {"condition": {"test": "datum.index === -1 || datum.value === '365-day'", "value": "black"}, "value": "#b0b0b0"},
      "tickDash": {"condition": {"test": "datum.index === -1 || datum.value === '365-day'", "value": []}, "value": [5, 4]},
      "tickWidth": {"condition": {"test": "datum.index === -1 || datum.value === '365-day'", "value": 3}, "value": 1.5},
      "grid": true,
      "gridColor": {"condition": {"test": "datum.index === -1 || datum.value === '365-day'", "value": "black"}, "value": "#b0b0b0"},
      "gridDash": {"condition": {"test": "datum.index === -1 || datum.value === '365-day'", "value": []}, "value": [6, 5]},
      "gridWidth": {"condition": {"test": "datum.index === -1 || datum.value === '365-day'", "value": 3}, "value": 1.5},
      "labelAngle": 0, "labelAlign": "center", "labelBaseline": "top", "labelFontSize": 14, "labelFontWeight": "bold", "labelPadding": -14}},
    "y": {"field": "or", "type": "quantitative", "scale": {"domain": [0.895, 1.127], "nice": false, "zero": false}, "axis": {"title": "Odds ratio (95% CI)", "values": [0.9, 0.95, 1.0, 1.05, 1.1], "format": ".2f", "labelFontSize": 14, "titleFontSize": 25, "titleX": -32, "titleY": 152}}}}
 ]
}
]
}
